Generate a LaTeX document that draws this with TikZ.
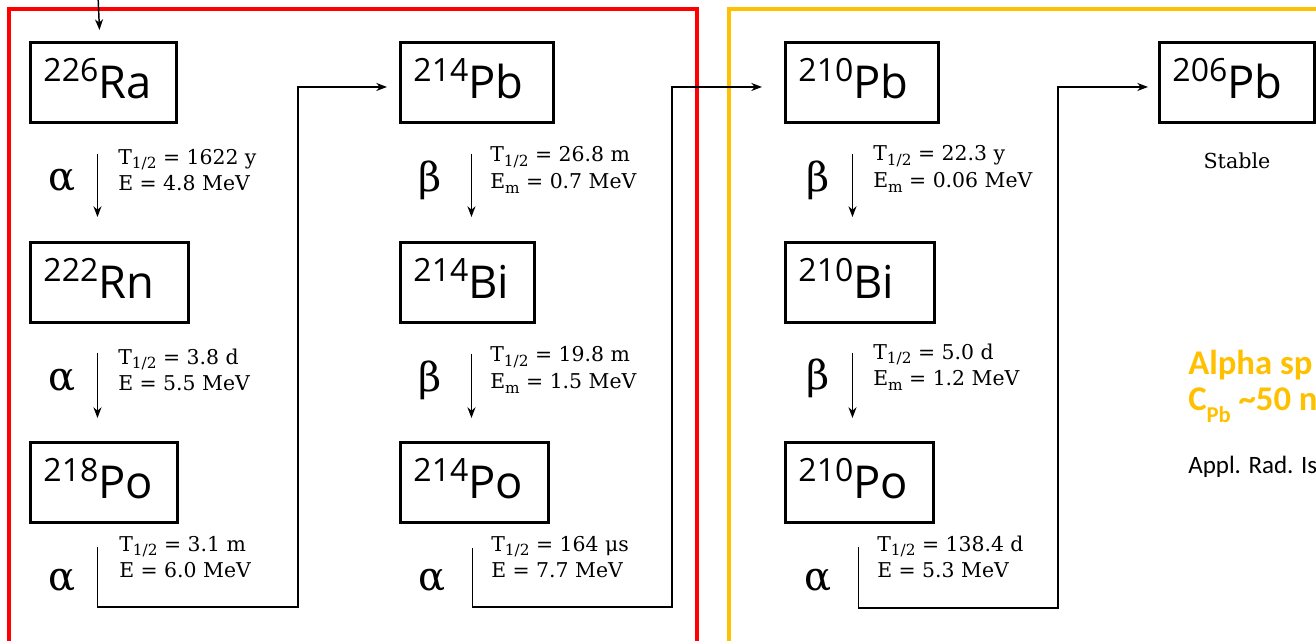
\documentclass[tikz,border=0pt]{standalone}
\usepackage{fontspec}
\setmainfont{DejaVu Serif}
\newfontfamily\boxfont{Open Sans}
\newfontfamily\calfont{Carlito}
\usetikzlibrary{arrows.meta,calc}
\definecolor{frred}{HTML}{FF0000}
\definecolor{fryel}{HTML}{FFC000}
\newcommand{\iso}[2]{{\fontsize{24}{24}\selectfont\raisebox{13pt}{#1}}#2}
\newcommand{\thalf}{T\raisebox{-3.5pt}{\fontsize{11.5}{11.5}\selectfont 1/2}}
\newcommand{\Emax}{E\raisebox{-3.5pt}{\fontsize{11.5}{11.5}\selectfont m}}
\begin{document}
\begin{tikzpicture}[x=0.75pt,y=-0.75pt,
  nuc/.style={draw, line width=2.2pt, anchor=north west, minimum height=60pt,
    inner xsep=9.75pt, inner ysep=0pt, align=left, text depth=6pt,
    font=\boxfont\fontsize{34}{34}\selectfont},
  dec/.style={anchor=west, align=left, inner sep=0pt,
    font=\fontsize{15.3}{20}\selectfont},
  greek/.style={inner sep=0pt, font=\fontsize{30}{30}\selectfont},
  conn/.style={line width=1.1pt, -{Stealth[length=8pt,width=6pt,inset=2.5pt]}},
  frame/.style={line width=2.4pt}]
\useasboundingbox (0,0) rectangle (1316,640);
% frames
\draw[frame, frred] (9,9) rectangle (697,660);
\draw[frame, fryel] (729,9) rectangle (1340,660);
% boxes
\node[nuc, text width=90pt]    (Ra)    at (29,41)   {\iso{226}{Ra}};
\node[nuc, text width=99pt]    (Rn)    at (29,241)  {\iso{222}{Rn}};
\node[nuc, text width=90.75pt] (Po218) at (29,441)  {\iso{218}{Po}};
\node[nuc, text width=95.25pt] (Pb214) at (399,41)  {\iso{214}{Pb}};
\node[nuc, text width=81pt]    (Bi214) at (399,241) {\iso{214}{Bi}};
\node[nuc, text width=91.5pt]  (Po214) at (399,441) {\iso{214}{Po}};
\node[nuc, text width=95.25pt] (Pb210) at (784,41)  {\iso{210}{Pb}};
\node[nuc, text width=92.25pt] (Bi210) at (784,241) {\iso{210}{Bi}};
\node[nuc, text width=91.5pt]  (Po210) at (784,441) {\iso{210}{Po}};
\node[nuc, text width=96.75pt] (Pb206) at (1158,41) {\iso{206}{Pb}};
\node[font=\fontsize{15.5}{15.5}\selectfont] (stable) at (1237,161) {Stable};
% incoming arrow
\coordinate (top) at (98,-5);
\draw[conn] (top) -- ($(Ra.north)+(-4,-11)$);
% decay labels, column 1
\node[greek] (g1) at (62,180) {α};
\node[dec] (t1) at (118,170) {\thalf{} = 1622 y\\E = 4.8 MeV};
\draw[conn] ($(Ra.south)+(-6,30)$) -- ($(Ra.south |- Rn.north)+(-6,-24)$);
\node[greek] (g2) at (62,380) {α};
\node[dec] (t2) at (118,370) {\thalf{} = 3.8 d\\E = 5.5 MeV};
\draw[conn] ($(Rn.south)+(-12,29)$) -- ($(Rn.south |- Po218.north)+(-12,-23)$);
\node[greek] (g3) at (62,580) {α};
\node[dec] (t3) at (119,557) {\thalf{} = 3.1 m\\E = 6.0 MeV};
\coordinate (c1) at (298,607);
\draw[conn] ($(Po218.south)+(-6.5,23)$) |- (c1) |- ($(Pb214.west)+(-12,4.5)$);
% column 2
\node[greek] (g4) at (430,180) {β};
\node[dec] (t4) at (490,170) {\thalf{} = 26.8 m\\\Emax{} = 0.7 MeV};
\draw[conn] ($(Pb214.south)+(-5.5,30)$) -- ($(Pb214.south |- Bi214.north)+(-5.5,-24)$);
\node[greek] (g5) at (430,380) {β};
\node[dec] (t5) at (490,370) {\thalf{} = 19.8 m\\\Emax{} = 1.5 MeV};
\draw[conn] ($(Bi214.south)+(4,30)$) -- ($(Bi214.south |- Po214.north)+(4,-23)$);
\node[greek] (g6) at (432,580) {α};
\node[dec] (t6) at (491,557) {\thalf{} = 164 μs\\E = 7.7 MeV};
\coordinate (c2) at (672,607);
\draw[conn] ($(Po214.south)+(-2,24)$) |- (c2) |- ($(Pb210.west)+(-22,4.5)$);
% column 3
\node[greek] (g7) at (818,180) {β};
\node[dec] (t7) at (873,169) {\thalf{} = 22.3 y\\\Emax{} = 0.06 MeV};
\draw[conn] ($(Pb210.south)+(-9.5,30)$) -- ($(Pb210.south |- Bi210.north)+(-9.5,-24)$);
\node[greek] (g8) at (818,378) {β};
\node[dec] (t8) at (873,367) {\thalf{} = 5.0 d\\\Emax{} = 1.2 MeV};
\draw[conn] ($(Bi210.south)+(-7.5,29)$) -- ($(Bi210.south |- Po210.north)+(-7.5,-23)$);
\node[greek] (g9) at (818,580) {α};
\node[dec] (t9) at (877,557) {\thalf{} = 138.4 d\\E = 5.3 MeV};
\coordinate (c3) at (1058,608);
\draw[conn] ($(Po210.south)+(-1,23)$) |- (c3) |- ($(Pb206.west)+(-10,4.5)$);
% notes
\node[anchor=base west, inner sep=0pt, text=fryel, font=\calfont\bfseries\fontsize{26}{26}\selectfont] (n1) at (1188,374) {Alpha sp};
\node[anchor=base west, inner sep=0pt, text=fryel, font=\calfont\bfseries\fontsize{26}{26}\selectfont] (n2) at (1188,410) {C\raisebox{-9pt}{\fontsize{17}{17}\selectfont Pb} \textasciitilde 50 n};
\node[anchor=base west, inner sep=0pt, font=\calfont\fontsize{18.75}{18.75}\selectfont] (n3) at (1188,473) {Appl. Rad. Is};
\end{tikzpicture}
\end{document}
